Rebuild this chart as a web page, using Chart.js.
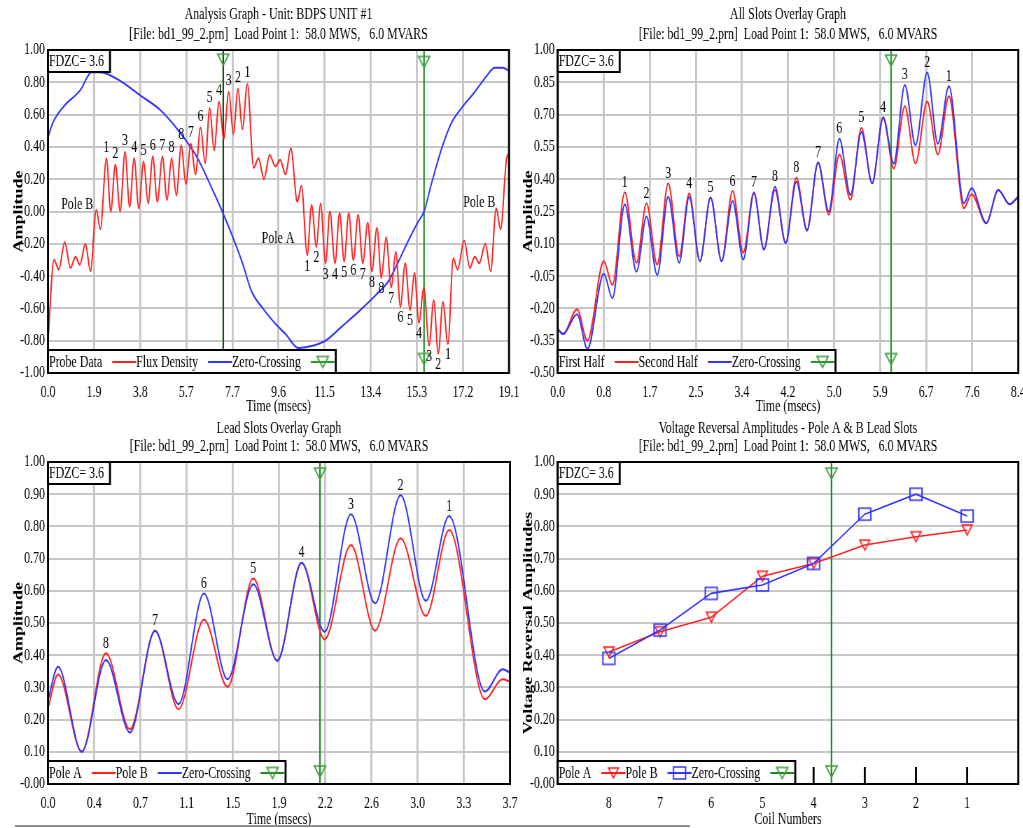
<!DOCTYPE html>
<html>
<head>
<meta charset="utf-8">
<title>Flux probe analysis</title>
<script src="https://cdn.jsdelivr.net/npm/chart.js@4.4.1/dist/chart.umd.min.js"></script>
<style>
  html, body { margin: 0; padding: 0; background: #fff; }
  body { position: relative; width: 1023px; height: 828px; overflow: hidden; }
  .row { position: absolute; left: 0; width: 1462px; height: 414px; transform: scaleX(0.7); transform-origin: 0 0; }
  .row canvas { position: absolute; left: 0; top: 0; }
  #rule { position: absolute; left: 15px; top: 825px; width: 675px; height: 2px; background: #909090; }
</style>
</head>
<body>
<div class="row" style="top:0"><canvas id="analysis" width="1462" height="414"></canvas></div>
<div class="row" style="top:0"><canvas id="allSlots" width="1462" height="414"></canvas></div>
<div class="row" style="top:414px"><canvas id="leadSlots" width="1462" height="414"></canvas></div>
<div class="row" style="top:414px"><canvas id="reversal" width="1462" height="414"></canvas></div>
<div id="rule"></div>
<script>
// the reference is squeezed sideways, so each canvas is drawn wide and scaled by S
const S = 0.7;
const FONT = "'Liberation Serif', 'Times New Roman', serif";
const RED = '#ff2020';
const BLUE = '#3434ff';
const GREEN = '#1f8a1f';
const GRID = '#c6c6c6';
const fileLine = '[File: bd1_99_2.prn]  Load Point 1:  58.0 MWS,   6.0 MVARS';

// ===== Analysis Graph =====
const timeTicks1 = ['0.0', '1.9', '3.8', '5.7', '7.7', '9.6', '11.5', '13.4', '15.3', '17.2', '19.1'];
const ampTicks1 = ['-1.00', '-0.80', '-0.60', '-0.40', '-0.20', '0.00', '0.20', '0.40', '0.60', '0.80', '1.00'];
const probeTime = [0, 0.25, 0.45, 0.69, 0.93, 1.14, 1.32, 1.55, 1.76, 2.0, 2.17, 2.42, 2.6, 2.79, 2.99, 3.19,
  3.38, 3.57, 3.76, 3.96, 4.15, 4.34, 4.53, 4.74, 4.93, 5.12, 5.32, 5.52, 5.71, 5.92, 6.11, 6.32, 6.51, 6.70,
  6.88, 7.09, 7.28, 7.49, 7.68, 7.87, 8.05, 8.26, 8.52, 8.72, 8.95, 9.18, 9.42, 9.62, 9.84, 10.06, 10.33, 10.50,
  10.74, 10.92, 11.12, 11.29, 11.50, 11.68, 11.89, 12.08, 12.27, 12.46, 12.65, 12.85, 13.04, 13.25, 13.42, 13.63,
  13.81, 14.01, 14.22, 14.41, 14.60, 14.80, 15.00, 15.18, 15.37, 15.57, 15.79, 15.98, 16.17, 16.36, 16.57, 16.79,
  16.97, 17.24, 17.48, 17.68, 17.87, 18.12, 18.34, 18.57, 18.75, 19.0, 19.1];
const probeData = [-0.80, -0.30, -0.36, -0.19, -0.35, -0.28, -0.33, -0.20, -0.37, 0.01, -0.11, 0.33, 0.00, 0.29, 0.00, 0.37,
  0.03, 0.33, 0.02, 0.31, 0.05, 0.34, 0.06, 0.34, 0.07, 0.33, 0.10, 0.41, 0.17, 0.42, 0.23, 0.52, 0.30, 0.64,
  0.38, 0.68, 0.45, 0.74, 0.48, 0.76, 0.51, 0.79, 0.27, 0.33, 0.20, 0.35, 0.28, 0.32, 0.23, 0.39, 0.06, 0.16,
  -0.27, 0.04, -0.22, 0.05, -0.32, 0.00, -0.32, -0.01, -0.31, -0.01, -0.30, -0.02, -0.32, -0.07, -0.37, -0.10,
  -0.41, -0.16, -0.47, -0.25, -0.59, -0.32, -0.61, -0.38, -0.69, -0.47, -0.83, -0.55, -0.88, -0.56, -0.82, -0.29,
  -0.36, -0.18, -0.35, -0.28, -0.32, -0.20, -0.37, 0.02, -0.11, 0.33, 0.36];
const fluxTime = [0, 0.2, 0.65, 1.33, 1.81, 2.1, 2.4, 2.98, 3.81, 4.64, 5.33, 6.16, 6.86, 7.25, 7.66, 8.08, 8.42,
  8.9, 9.45, 9.85, 10.37, 10.68, 11.0, 11.5, 12.19, 12.87, 13.56, 14.11, 14.52, 14.93, 15.35, 15.58, 15.9, 16.31,
  16.72, 17.13, 17.68, 18.23, 18.5, 18.85, 19.1];
const fluxDensity = [0.46, 0.55, 0.65, 0.75, 0.862, 0.862, 0.855, 0.81, 0.72, 0.63, 0.515, 0.34, 0.12, -0.01, -0.16,
  -0.33, -0.49, -0.60, -0.70, -0.76, -0.845, -0.84, -0.83, -0.80, -0.71, -0.62, -0.52, -0.43, -0.31, -0.18, -0.06,
  0.0, 0.18, 0.39, 0.55, 0.64, 0.74, 0.85, 0.89, 0.89, 0.87];
const zeroCross1 = [7.26, 15.58];
const zcMarkTime1 = [7.26, 15.58, 15.58];
const zcMarkAmp1 = [0.94, 0.926, -0.913];
const slotOrder = ['1', '2', '3', '4', '5', '6', '7', '8', '8', '7', '6', '5', '4', '3', '2', '1'];
const poleBSlotTime = [2.42, 2.79, 3.19, 3.57, 3.96, 4.34, 4.74, 5.12, 5.52, 5.92, 6.32, 6.70, 7.09, 7.49, 7.87, 8.26];
const poleBSlotAmp = [0.33, 0.29, 0.37, 0.33, 0.31, 0.34, 0.34, 0.33, 0.41, 0.42, 0.52, 0.64, 0.68, 0.74, 0.76, 0.79];
const poleASlotTime = [10.74, 11.12, 11.50, 11.89, 12.27, 12.65, 13.04, 13.42, 13.81, 14.22, 14.60, 15.00, 15.37, 15.79, 16.17, 16.57];
const poleASlotAmp = [-0.27, -0.22, -0.32, -0.32, -0.31, -0.30, -0.32, -0.37, -0.41, -0.47, -0.59, -0.61, -0.69, -0.83, -0.88, -0.82];
const poleNames = ['Pole B', 'Pole A', 'Pole B'];
const poleNameTime = [1.21, 9.53, 17.87];
const poleNameAmp = [0.042, -0.17, 0.053];

// ===== All Slots Overlay Graph =====
const timeTicks2 = ['0.0', '0.8', '1.7', '2.5', '3.4', '4.2', '5.0', '5.9', '6.7', '7.6', '8.4'];
const ampTicks2 = ['-0.50', '-0.35', '-0.20', '-0.05', '0.10', '0.25', '0.40', '0.55', '0.70', '0.85', '1.00'];
const slotTime2 = [0, 0.097, 0.353, 0.542, 0.84, 0.998, 1.223, 1.436, 1.619, 1.814, 2.015, 2.216, 2.398, 2.593,
  2.788, 2.989, 3.189, 3.384, 3.579, 3.761, 3.962, 4.157, 4.352, 4.547, 4.748, 4.943, 5.137, 5.338, 5.539, 5.734,
  5.935, 6.129, 6.33, 6.525, 6.738, 6.933, 7.134, 7.408, 7.548, 7.815, 8.034, 8.241, 8.4];
const firstHalf = [-0.296, -0.319, -0.204, -0.35, 0.019, -0.091, 0.339, 0.012, 0.288, 0.004, 0.381, 0.042, 0.335,
  0.019, 0.315, 0.019, 0.345, 0.058, 0.339, 0.073, 0.35, 0.104, 0.407, 0.165, 0.478, 0.235, 0.515, 0.304, 0.638,
  0.381, 0.684, 0.45, 0.739, 0.473, 0.761, 0.515, 0.785, 0.265, 0.33, 0.196, 0.35, 0.284, 0.319];
const secondHalf = [-0.296, -0.319, -0.227, -0.388, -0.039, -0.153, 0.284, -0.03, 0.227, -0.045, 0.319, 0.012, 0.319,
  0.019, 0.315, 0.019, 0.299, 0.027, 0.335, 0.073, 0.365, 0.104, 0.388, 0.161, 0.478, 0.25, 0.588, 0.327, 0.619,
  0.381, 0.688, 0.473, 0.838, 0.558, 0.896, 0.565, 0.832, 0.288, 0.358, 0.196, 0.35, 0.284, 0.319];
const zeroCross2 = 6.08;
const zcMarkAmp2 = [0.951, -0.435];
const peakTime2 = [1.223, 1.619, 2.015, 2.398, 2.788, 3.189, 3.579, 3.962, 4.352, 4.748, 5.137, 5.539, 5.935, 6.33, 6.738, 7.134];
const peakAmp2 = [0.339, 0.288, 0.381, 0.335, 0.315, 0.345, 0.339, 0.365, 0.407, 0.478, 0.588, 0.638, 0.688, 0.838, 0.896, 0.832];

// ===== Lead Slots Overlay Graph =====
const timeTicks3 = ['0.0', '0.4', '0.7', '1.1', '1.5', '1.9', '2.2', '2.6', '3.0', '3.3', '3.7'];
const ampTicks3 = ['-0.00', '0.10', '0.20', '0.30', '0.40', '0.50', '0.60', '0.70', '0.80', '0.90', '1.00'];
const leadTime = [0, 0.08, 0.27, 0.464, 0.656, 0.857, 1.045, 1.249, 1.437, 1.644, 1.836, 2.031, 2.215, 2.426, 2.619,
  2.824, 3.026, 3.213, 3.499, 3.64, 3.7];
const poleA = [0.235, 0.34, 0.10, 0.406, 0.17, 0.476, 0.232, 0.511, 0.302, 0.638, 0.383, 0.687, 0.449, 0.742, 0.476,
  0.763, 0.522, 0.789, 0.263, 0.325, 0.318];
const poleB = [0.26, 0.364, 0.10, 0.385, 0.16, 0.476, 0.248, 0.592, 0.325, 0.62, 0.383, 0.687, 0.473, 0.838, 0.561,
  0.897, 0.569, 0.832, 0.287, 0.356, 0.346];
const zeroCross3 = 2.178;
const zcMarkAmp3 = [0.964, 0.039];
const leadOrder = ['8', '7', '6', '5', '4', '3', '2', '1'];
const leadPeakTime = [0.464, 0.857, 1.249, 1.644, 2.031, 2.426, 2.824, 3.213];
const leadPeakAmp = [0.406, 0.476, 0.592, 0.638, 0.687, 0.838, 0.897, 0.832];

// ===== Voltage Reversal Amplitudes =====
const coilNumbers = ['8', '7', '6', '5', '4', '3', '2', '1'];
const ampTicks4 = ['-0.00', '0.10', '0.20', '0.30', '0.40', '0.50', '0.60', '0.70', '0.80', '0.90', '1.00'];
const poleAReversal = [0.41, 0.473, 0.518, 0.645, 0.685, 0.742, 0.768, 0.789];
const poleBReversal = [0.39, 0.478, 0.592, 0.618, 0.685, 0.838, 0.90, 0.832];
const zeroCross4 = 5.35;
const zcMarkAmp4 = [0.964, 0.039];

// open markers, drawn stretched so the squeeze leaves them square
function marker(shape, color, size) {
  const c = document.createElement('canvas');
  const box = size + 4;
  c.width = Math.ceil(box / S);
  c.height = box;
  const g = c.getContext('2d');
  g.scale(c.width / box, 1);
  g.strokeStyle = color;
  g.lineWidth = 1.4;
  const m = box / 2, h = size / 2;
  g.beginPath();
  if (shape === 'tri') {
    g.moveTo(m - h, m - h); g.lineTo(m + h, m - h); g.lineTo(m, m + h); g.closePath();
  } else {
    g.rect(m - h, m - h, size, size);
  }
  g.stroke();
  return c;
}
const markers = {
  triG: marker('tri', '#3f9f3f', 11),
  triR: marker('tri', RED, 10),
  sqB: marker('sq', BLUE, 12)
};

const pts = (xs, ys) => xs.map((x, i) => ({ x: x, y: ys[i] }));
const spread = labels => {
  const a = Number(labels[0]), b = Number(labels[labels.length - 1]);
  return labels.map((_, i) => a + i * (b - a) / (labels.length - 1));
};
const vline = (x, y0, y1, color) => ({
  data: [{ x: x, y: y0 }, { x: x, y: y1 }], borderColor: color, borderWidth: 1.6 / S,
  cubicInterpolationMode: 'default', tension: 0, order: 3
});
const marks = (xs, ys) => ({ data: pts(xs, ys), showLine: false, pointStyle: markers.triG, pointRadius: 5, order: 0 });

function frame(ctx, x1, y1, x2, y2, fill) {
  if (fill) { ctx.fillStyle = '#fff'; ctx.fillRect(x1, y1, x2 - x1, y2 - y1); }
  ctx.fillStyle = '#000';
  ctx.fillRect(x1, y1 - 1, x2 - x1, 2);
  ctx.fillRect(x1, y2 - 1, x2 - x1, 2);
  ctx.fillRect(x1 - 1 / S, y1 - 1, 2 / S, y2 - y1 + 2);
  ctx.fillRect(x2 - 1 / S, y1 - 1, 2 / S, y2 - y1 + 2);
}

// frame, FDZC box, legend box, slot numbers and titles
const decorCfg = {};
const decor = {
  id: 'decor',
  afterDraw(chart) {
    const d = decorCfg[chart.canvas.id];
    const ctx = chart.ctx, a = chart.chartArea;
    const xs = chart.scales.x, ys = chart.scales.y;
    ctx.save();
    ctx.fillStyle = '#000';
    if (d.innerTicks) {
      xs.ticks.forEach(t => {
        const px = xs.getPixelForValue(t.value);
        ctx.fillRect(px - 1 / S, a.bottom - 17, 2 / S, 17);
      });
    }
    frame(ctx, a.left, a.top, a.right, a.bottom, false);
    ctx.font = '17px ' + FONT;
    ctx.textBaseline = 'middle';
    ctx.textAlign = 'left';

    const fw = ctx.measureText(d.fdzc).width;
    frame(ctx, a.left, a.top, a.left + fw + 7 / S, a.top + 22, true);
    ctx.fillStyle = '#000';
    ctx.fillText(d.fdzc, a.left + 1 / S, a.top + 12);

    let x = a.left + 1 / S;
    const items = d.legend.map(it => {
      const w = ctx.measureText(it.text).width;
      const p = { it: it, tx: x, lx: x + w + 10 / S };
      x = p.lx + 24 / S;
      return p;
    });
    frame(ctx, a.left, a.bottom - 23, x + 1 / S, a.bottom, true);
    const my = a.bottom - 11;
    items.forEach(p => {
      ctx.fillStyle = '#000';
      ctx.fillText(p.it.text, p.tx, my + 0.5);
      ctx.strokeStyle = p.it.color;
      ctx.lineWidth = 2;
      ctx.beginPath();
      ctx.moveTo(p.lx, my);
      ctx.lineTo(p.lx + 24 / S, my);
      ctx.stroke();
      if (p.it.marker) {
        const m = markers[p.it.marker];
        ctx.drawImage(m, p.lx + 12 / S - m.width / 2, my - m.height / 2);
      }
    });

    ctx.fillStyle = '#000';
    ctx.textAlign = 'center';
    (d.slots || []).forEach(g => {
      g.x.forEach((v, i) => {
        ctx.fillText(g.text[i], xs.getPixelForValue(v), ys.getPixelForValue(g.y[i]) + g.dy);
      });
    });
    if (d.notes) {
      d.notes.x.forEach((v, i) => {
        ctx.fillText(d.notes.text[i], xs.getPixelForValue(v), ys.getPixelForValue(d.notes.y[i]));
      });
    }
    const cx = (a.left + a.right) / 2;
    ctx.fillText(d.title[0], cx, 15);
    ctx.fillText(d.title[1], cx, a.top - 15);
    ctx.restore();
  }
};

function panel(id, c) {
  const cv = document.getElementById(id);
  const [L, R, T, B] = c.box;
  const tickFont = { family: FONT, size: 17 };
  const yVals = c.yLabels.map(Number);
  decorCfg[id] = c.decor;
  return new Chart(cv, {
    type: 'line',
    data: { datasets: c.datasets },
    options: {
      responsive: false,
      animation: false,
      devicePixelRatio: 1,
      layout: { padding: { left: (L - 48) / S, right: cv.width - R / S, top: T, bottom: 0 } },
      plugins: { legend: { display: false }, tooltip: { enabled: false }, title: { display: false } },
      elements: {
        point: { radius: 0 },
        line: { borderWidth: 2, cubicInterpolationMode: 'monotone' }
      },
      scales: {
        x: {
          type: 'linear',
          min: c.xMin,
          max: c.xMax,
          grid: { display: c.xGrid, color: GRID, lineWidth: 2 / S, drawTicks: false },
          border: { display: false },
          ticks: {
            autoSkip: false, maxRotation: 0, minRotation: 0, padding: 9, color: '#000', font: tickFont,
            callback: (v, i) => c.xLabels[i]
          },
          title: {
            display: true, text: c.xTitle, color: '#000',
            font: { family: FONT, size: 17, lineHeight: 0.8 },
            padding: { top: 0, bottom: 414 - (B + c.xTitleGap) - 6.8 }
          },
          afterBuildTicks: s => { s.ticks = c.xValues.map(v => ({ value: v })); },
          afterFit: s => { s.height = 414 - B; s.paddingLeft = 0; s.paddingRight = 0; }
        },
        y: {
          type: 'linear',
          min: yVals[0],
          max: yVals[yVals.length - 1],
          grid: { color: GRID, lineWidth: 2, drawTicks: false },
          border: { display: false },
          ticks: { padding: 3 / S, color: '#000', font: tickFont, callback: (v, i) => c.yLabels[i] },
          title: {
            display: true, text: c.yTitle, color: '#000',
            font: { family: FONT, size: 18, weight: 'bold' },
            padding: { top: 19 / S - 10.8, bottom: 0 }
          },
          afterBuildTicks: s => { s.ticks = yVals.map(v => ({ value: v })); },
          afterFit: s => { s.width = 48 / S; }
        }
      }
    },
    plugins: [decor]
  });
}

// ---- top left ----
panel('analysis', {
  box: [48, 509, 50, 373],
  xLabels: timeTicks1, xValues: spread(timeTicks1), xMin: 0, xMax: Number(timeTicks1[timeTicks1.length - 1]),
  xTitle: 'Time (msecs)', xTitleGap: 34, xGrid: true,
  yLabels: ampTicks1, yTitle: 'Amplitude',
  datasets: [
    vline(zeroCross1[0], -1, 1, '#145214'),
    vline(zeroCross1[1], -1, 1, '#2e962e'),
    marks(zcMarkTime1, zcMarkAmp1),
    { data: pts(fluxTime, fluxDensity), borderColor: BLUE, order: 2 },
    { data: pts(probeTime, probeData), borderColor: RED, order: 1 }
  ],
  decor: {
    title: ['Analysis Graph - Unit: BDPS UNIT #1', fileLine],
    fdzc: 'FDZC= 3.6',
    legend: [
      { text: 'Probe Data', color: RED },
      { text: 'Flux Density', color: BLUE },
      { text: 'Zero-Crossing', color: '#2e962e', marker: 'triG' }
    ],
    slots: [
      { x: poleBSlotTime, y: poleBSlotAmp, text: slotOrder, dy: -11 },
      { x: poleASlotTime, y: poleASlotAmp, text: slotOrder, dy: 11 }
    ],
    notes: { x: poleNameTime, y: poleNameAmp, text: poleNames }
  }
});

// ---- top right ----
panel('allSlots', {
  box: [557.7, 1018.3, 50, 373],
  xLabels: timeTicks2, xValues: spread(timeTicks2), xMin: 0, xMax: Number(timeTicks2[timeTicks2.length - 1]),
  xTitle: 'Time (msecs)', xTitleGap: 34, xGrid: true,
  yLabels: ampTicks2, yTitle: 'Amplitude',
  datasets: [
    vline(zeroCross2, -0.5, 1, '#2e962e'),
    marks([zeroCross2, zeroCross2], zcMarkAmp2),
    { data: pts(slotTime2, firstHalf), borderColor: RED, order: 2 },
    { data: pts(slotTime2, secondHalf), borderColor: BLUE, order: 1 }
  ],
  decor: {
    title: ['All Slots Overlay Graph', fileLine],
    fdzc: 'FDZC= 3.6',
    legend: [
      { text: 'First Half', color: RED },
      { text: 'Second Half', color: BLUE },
      { text: 'Zero-Crossing', color: '#2e962e', marker: 'triG' }
    ],
    slots: [{ x: peakTime2, y: peakAmp2, text: slotOrder, dy: -10 }]
  }
});

// ---- bottom left ----
panel('leadSlots', {
  box: [48, 510, 48, 370],
  xLabels: timeTicks3, xValues: spread(timeTicks3), xMin: 0, xMax: Number(timeTicks3[timeTicks3.length - 1]),
  xTitle: 'Time (msecs)', xTitleGap: 36, xGrid: true,
  yLabels: ampTicks3, yTitle: 'Amplitude',
  datasets: [
    vline(zeroCross3, 0, 1, GREEN),
    marks([zeroCross3, zeroCross3], zcMarkAmp3),
    { data: pts(leadTime, poleA), borderColor: RED, order: 2 },
    { data: pts(leadTime, poleB), borderColor: BLUE, order: 1 }
  ],
  decor: {
    title: ['Lead Slots Overlay Graph', fileLine],
    fdzc: 'FDZC= 3.6',
    legend: [
      { text: 'Pole A', color: RED },
      { text: 'Pole B', color: BLUE },
      { text: 'Zero-Crossing', color: GREEN, marker: 'triG' }
    ],
    slots: [{ x: leadPeakTime, y: leadPeakAmp, text: leadOrder, dy: -10 }]
  }
});

// ---- bottom right ----
const coilPos = coilNumbers.map((_, i) => i + 1);
panel('reversal', {
  box: [557.7, 1018.3, 48, 370],
  xLabels: coilNumbers, xValues: coilPos, xMin: 0, xMax: coilNumbers.length + 1,
  xTitle: 'Coil Numbers', xTitleGap: 36, xGrid: false,
  yLabels: ampTicks4, yTitle: 'Voltage Reversal Amplitudes',
  datasets: [
    vline(zeroCross4, 0, 1, GREEN),
    marks([zeroCross4, zeroCross4], zcMarkAmp4),
    { data: pts(coilPos, poleAReversal), borderColor: RED, borderWidth: 1.6, tension: 0,
      cubicInterpolationMode: 'default', pointStyle: markers.triR, pointRadius: 5, order: 2 },
    { data: pts(coilPos, poleBReversal), borderColor: BLUE, borderWidth: 1.6, tension: 0,
      cubicInterpolationMode: 'default', pointStyle: markers.sqB, pointRadius: 5, order: 1 }
  ],
  decor: {
    title: ['Voltage Reversal Amplitudes - Pole A & B Lead Slots', fileLine],
    fdzc: 'FDZC= 3.6',
    innerTicks: true,
    legend: [
      { text: 'Pole A', color: RED, marker: 'triR' },
      { text: 'Pole B', color: BLUE, marker: 'sqB' },
      { text: 'Zero-Crossing', color: GREEN, marker: 'triG' }
    ]
  }
});
</script>
</body>
</html>
